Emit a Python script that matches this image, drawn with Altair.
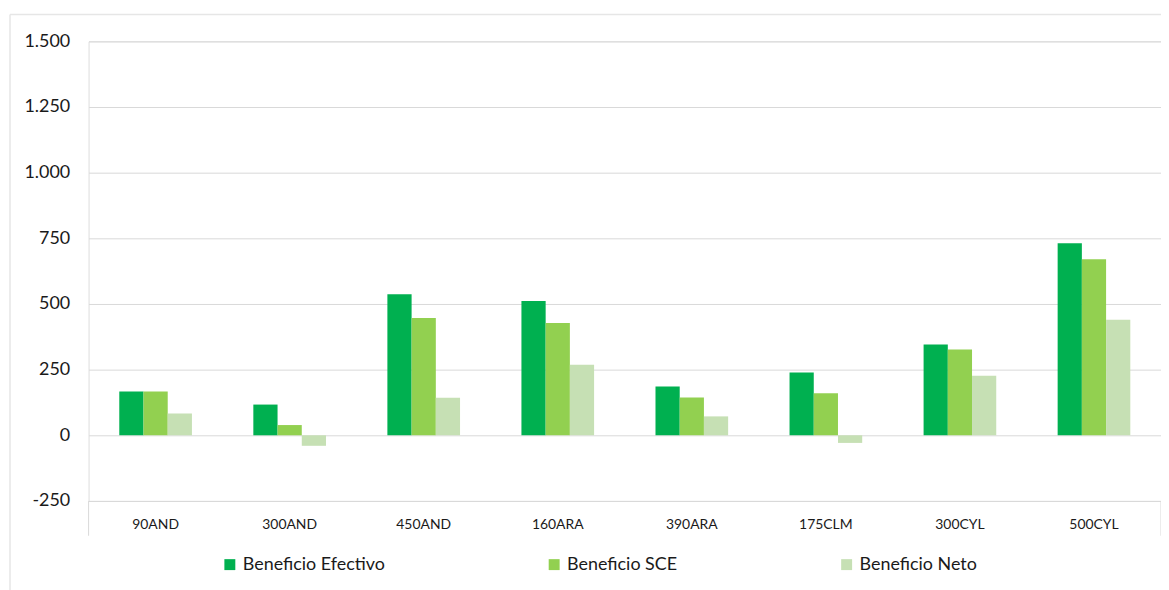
import altair as alt
import pandas as pd

categories = ["90AND", "300AND", "450AND", "160ARA", "390ARA", "175CLM", "300CYL", "500CYL"]
series = ["Beneficio Efectivo", "Beneficio SCE", "Beneficio Neto"]
efectivo = [167, 117, 537, 511, 186, 239, 346, 731]
sce = [167, 39, 447, 428, 144, 160, 327, 670]
neto = [83, -40, 143, 269, 72, -29, 227, 440]
colors = ["#00b050", "#92d050", "#c6e0b4"]
y_ticks = [-250, 0, 250, 500, 750, 1000, 1250, 1500]

rows = []
for i, c in enumerate(categories):
    for s, vals in zip(series, [efectivo, sce, neto]):
        rows.append({"cat": c, "serie": s, "valor": vals[i]})
df = pd.DataFrame(rows)

W, H = 1078, 462
FONT = "Lato"
TXT = "#1a1a1a"
GRID = "#d9d9d9"

bars = alt.Chart(df).mark_bar().encode(
    x=alt.X("cat:N", sort=categories,
            scale=alt.Scale(paddingInner=0.458, paddingOuter=0.229),
            axis=alt.Axis(title=None, labelAngle=0, ticks=False, tickSize=0,
                          domain=True, domainColor=GRID, domainWidth=1,
                          labelFont=FONT, labelFontSize=14, labelColor=TXT,
                          labelBaseline="middle", labelPadding=24)),
    xOffset=alt.XOffset("serie:N", sort=series,
                        scale=alt.Scale(paddingInner=0, paddingOuter=0)),
    y=alt.Y("valor:Q",
            scale=alt.Scale(domain=[-250, 1500], nice=False, zero=False),
            axis=alt.Axis(title=None, values=y_ticks, domain=False, ticks=False,
                          tickSize=0, grid=True, gridColor=GRID, gridWidth=1,
                          labelFont=FONT, labelFontSize=18, labelColor=TXT,
                          labelPadding=19,
                          labelExpr="replace(replace(format(datum.value, ','), ',', '.'), '\u2212', '-')")),
    color=alt.Color("serie:N", sort=series,
                    scale=alt.Scale(domain=series, range=colors),
                    legend=alt.Legend(title=None, orient="none", direction="horizontal",
                                      legendX=133, legendY=517,
                                      symbolType="square", symbolSize=121,
                                      symbolStrokeWidth=0, labelOffset=4,
                                      columnPadding=161, labelFont=FONT,
                                      labelFontSize=18, labelColor=TXT)),
)

decor = pd.DataFrame({"d": [0]})
left_tick = alt.Chart(decor).mark_rule(color=GRID, strokeWidth=1).encode(
    x=alt.value(0), y=alt.value(H), y2=alt.value(H + 35))
right_tick = alt.Chart(decor).mark_rule(color=GRID, strokeWidth=1).encode(
    x=alt.value(W), y=alt.value(H), y2=alt.value(H + 35))
border_left = alt.Chart(decor).mark_rule(color="#e6e6e6", strokeWidth=1.5).encode(
    x=alt.value(-79), y=alt.value(-27), y2=alt.value(H + 120))
border_top = alt.Chart(decor).mark_rule(color="#e6e6e6", strokeWidth=1.5).encode(
    x=alt.value(-79), x2=alt.value(W + 40), y=alt.value(-27))

chart = alt.layer(bars, left_tick, right_tick, border_left, border_top).properties(
    width=W, height=H,
    autosize=alt.AutoSizeParams(type="none"),
    padding={"left": 81, "top": 32, "right": 0, "bottom": 90},
).configure_view(stroke=None).configure(background="white")

chart.save("out.html", embed_options={"renderer": "svg", "actions": False})
